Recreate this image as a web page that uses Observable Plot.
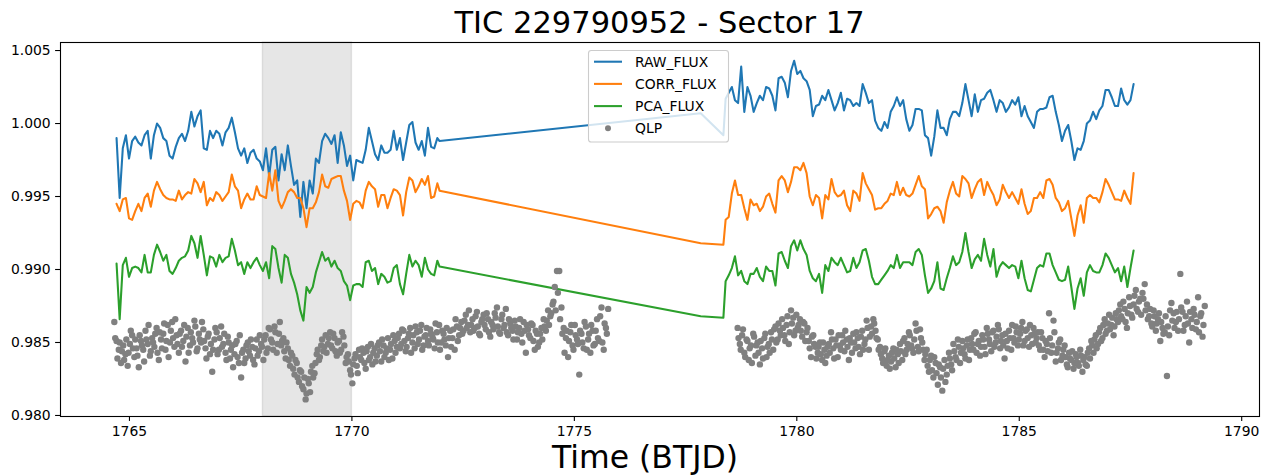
<!DOCTYPE html>
<html>
<head>
<meta charset="utf-8">
<script src="https://cdn.jsdelivr.net/npm/d3@7"></script>
<script src="https://cdn.jsdelivr.net/npm/@observablehq/plot@0.6"></script>
<style>
  body { margin: 0; background: #fff; font-family: "DejaVu Sans", sans-serif; color: #000; }
  #wrap { position: relative; width: 1282px; height: 476px; overflow: hidden; background: #fff; }
  #title { position: absolute; left: 60px; width: 1199px; top: 5px; height: 36px; line-height: 36px;
           text-align: center; font-size: 30.5px; white-space: nowrap; }
  #chart { position: absolute; left: 0; top: 40px; }
  #xlabel { position: absolute; left: 45px; width: 1200px; top: 446px; height: 30px; line-height: 23px;
            text-align: center; font-size: 31.5px; white-space: nowrap; }
</style>
</head>
<body>
<div id="wrap">
  <div id="title">TIC 229790952 - Sector 17</div>
  <div id="chart"></div>
  <div id="xlabel">Time (BTJD)</div>
</div>
<script>
// ---- light curve cadences (BTJD): orbit 1, two points across the gap, orbit 2 ----
const lcTime = [
  1764.71,1764.78,1764.85,1764.92,1764.99,1765.06,1765.13,1765.20,1765.27,1765.34,
  1765.41,1765.48,1765.55,1765.62,1765.69,1765.76,1765.83,1765.90,1765.97,1766.04,
  1766.11,1766.18,1766.25,1766.32,1766.39,1766.46,1766.53,1766.60,1766.67,1766.74,
  1766.81,1766.88,1766.95,1767.02,1767.09,1767.16,1767.23,1767.30,1767.37,1767.44,
  1767.51,1767.58,1767.65,1767.72,1767.79,1767.86,1767.93,1768.00,1768.07,1768.14,
  1768.21,1768.28,1768.35,1768.42,1768.49,1768.56,1768.63,1768.70,1768.77,1768.84,
  1768.91,1768.98,1769.05,1769.12,1769.19,1769.26,1769.33,1769.40,1769.47,1769.54,
  1769.61,1769.68,1769.75,1769.82,1769.89,1769.96,1770.03,1770.10,1770.17,1770.24,
  1770.31,1770.38,1770.45,1770.52,1770.59,1770.66,1770.73,1770.80,1770.87,1770.94,
  1771.01,1771.08,1771.15,1771.22,1771.29,1771.36,1771.43,1771.50,1771.57,1771.64,
  1771.71,1771.78,1771.85,1771.92,1771.97,
  1777.84,1778.35,
  1778.40,1778.47,1778.54,1778.61,1778.68,1778.75,1778.82,1778.89,1778.96,1779.03,
  1779.10,1779.17,1779.24,1779.31,1779.38,1779.45,1779.52,1779.59,1779.66,1779.73,
  1779.80,1779.87,1779.94,1780.01,1780.08,1780.15,1780.22,1780.29,1780.36,1780.43,
  1780.50,1780.57,1780.64,1780.71,1780.78,1780.85,1780.92,1780.99,1781.06,1781.13,
  1781.20,1781.27,1781.34,1781.41,1781.48,1781.55,1781.62,1781.69,1781.76,1781.83,
  1781.90,1781.97,1782.04,1782.11,1782.18,1782.25,1782.32,1782.39,1782.46,1782.53,
  1782.60,1782.67,1782.74,1782.81,1782.88,1782.95,1783.02,1783.09,1783.16,1783.23,
  1783.30,1783.37,1783.44,1783.51,1783.58,1783.65,1783.72,1783.79,1783.86,1783.93,
  1784.00,1784.07,1784.14,1784.21,1784.28,1784.35,1784.42,1784.49,1784.56,1784.63,
  1784.70,1784.77,1784.84,1784.91,1784.98,1785.05,1785.12,1785.19,1785.26,1785.33,
  1785.40,1785.47,1785.54,1785.61,1785.68,1785.75,1785.82,1785.89,1785.96,1786.03,
  1786.10,1786.17,1786.24,1786.31,1786.38,1786.45,1786.52,1786.59,1786.66,1786.73,
  1786.80,1786.87,1786.94,1787.01,1787.08,1787.15,1787.22,1787.29,1787.36,1787.43,
  1787.50,1787.57
];

// ---- normalised fluxes on the cadences above ----
const rawFlux = [
  0.9990,0.9949,0.9983,0.9992,0.9976,0.9988,0.9991,0.9987,0.9985,0.9992,
  0.9995,0.9976,0.9992,1.0000,0.9997,0.9990,0.9988,0.9978,0.9976,0.9984,
  0.9990,0.9993,0.9988,0.9995,1.0008,0.9998,1.0005,1.0009,0.9983,0.9982,
  0.9995,0.9990,0.9995,0.9993,0.9985,0.9994,0.9997,1.0004,0.9994,0.9983,
  0.9978,0.9983,0.9973,0.9980,0.9982,0.9976,0.9974,0.9968,0.9983,0.9964,
  0.9982,0.9984,0.9961,0.9979,0.9968,0.9985,0.9971,0.9958,0.9961,0.9936,
  0.9960,0.9942,0.9961,0.9952,0.9976,0.9973,0.9988,0.9993,0.9990,0.9986,
  0.9992,0.9973,0.9994,0.9985,0.9971,0.9978,0.9961,0.9975,0.9974,0.9973,
  0.9982,0.9997,0.9988,0.9979,0.9975,0.9985,0.9980,0.9980,0.9982,0.9995,
  0.9982,0.9990,0.9975,0.9987,0.9999,1.0001,0.9987,0.9982,0.9988,0.9978,
  0.9997,0.9984,0.9983,0.9990,0.9988,
  1.0007,0.9992,
  1.0017,1.0021,1.0025,1.0016,1.0014,1.0039,1.0008,1.0025,1.0019,1.0008,
  1.0014,1.0019,1.0016,1.0025,1.0024,1.0019,1.0009,1.0031,1.0032,1.0028,
  1.0018,1.0036,1.0043,1.0034,1.0036,1.0031,1.0029,1.0023,1.0005,1.0012,
  1.0013,1.0019,1.0016,1.0023,1.0016,1.0009,1.0014,1.0021,1.0009,1.0017,
  1.0016,1.0012,1.0014,1.0012,1.0027,1.0021,1.0014,1.0016,1.0002,0.9997,
  0.9995,1.0001,0.9997,1.0008,1.0012,1.0018,1.0012,1.0016,1.0003,0.9995,
  0.9999,1.0010,1.0010,1.0009,0.9992,0.9990,0.9978,0.9991,1.0009,0.9997,
  0.9997,0.9992,1.0003,1.0008,1.0008,1.0005,1.0014,1.0027,1.0016,1.0005,
  1.0020,1.0008,1.0016,1.0017,1.0021,1.0023,1.0016,1.0008,1.0016,1.0014,
  1.0008,1.0011,1.0016,1.0013,1.0018,1.0005,1.0012,1.0005,1.0001,0.9997,
  1.0008,1.0010,1.0010,1.0011,1.0018,1.0019,1.0008,0.9999,0.9988,0.9995,
  0.9999,0.9988,0.9975,0.9983,0.9982,0.9988,1.0000,1.0002,1.0008,1.0003,
  1.0009,1.0012,1.0023,1.0023,1.0018,1.0012,1.0012,1.0024,1.0016,1.0013,
  1.0016,1.0027
];

const corrFlux = [
  0.9945,0.9940,0.9948,0.9949,0.9935,0.9934,0.9940,0.9945,0.9940,0.9949,
  0.9952,0.9943,0.9954,0.9960,0.9955,0.9951,0.9949,0.9948,0.9948,0.9947,
  0.9954,0.9948,0.9951,0.9953,0.9952,0.9962,0.9959,0.9953,0.9960,0.9944,
  0.9949,0.9947,0.9953,0.9951,0.9947,0.9950,0.9953,0.9965,0.9957,0.9954,
  0.9942,0.9948,0.9952,0.9948,0.9948,0.9957,0.9951,0.9950,0.9949,0.9966,
  0.9954,0.9968,0.9947,0.9942,0.9947,0.9953,0.9955,0.9953,0.9949,0.9949,
  0.9942,0.9929,0.9942,0.9942,0.9946,0.9953,0.9965,0.9957,0.9956,0.9962,
  0.9963,0.9964,0.9964,0.9954,0.9947,0.9934,0.9945,0.9947,0.9946,0.9942,
  0.9954,0.9960,0.9957,0.9955,0.9943,0.9951,0.9951,0.9942,0.9949,0.9955,
  0.9954,0.9951,0.9937,0.9953,0.9963,0.9961,0.9953,0.9957,0.9962,0.9958,
  0.9964,0.9949,0.9950,0.9959,0.9954,
  0.9918,0.9917,
  0.9934,0.9936,0.9952,0.9961,0.9951,0.9951,0.9942,0.9934,0.9948,0.9944,
  0.9945,0.9940,0.9943,0.9950,0.9952,0.9945,0.9939,0.9961,0.9964,0.9961,
  0.9953,0.9960,0.9970,0.9970,0.9968,0.9973,0.9966,0.9950,0.9944,0.9951,
  0.9949,0.9935,0.9951,0.9948,0.9962,0.9953,0.9950,0.9951,0.9954,0.9944,
  0.9940,0.9954,0.9952,0.9947,0.9966,0.9959,0.9955,0.9951,0.9941,0.9942,
  0.9942,0.9945,0.9947,0.9952,0.9951,0.9960,0.9951,0.9956,0.9951,0.9950,
  0.9952,0.9958,0.9964,0.9957,0.9955,0.9935,0.9938,0.9942,0.9943,0.9940,
  0.9932,0.9946,0.9954,0.9960,0.9952,0.9950,0.9964,0.9962,0.9959,0.9949,
  0.9955,0.9960,0.9962,0.9951,0.9960,0.9955,0.9951,0.9944,0.9948,0.9958,
  0.9953,0.9949,0.9953,0.9949,0.9945,0.9955,0.9945,0.9938,0.9940,0.9949,
  0.9949,0.9953,0.9949,0.9961,0.9962,0.9958,0.9949,0.9946,0.9940,0.9942,
  0.9947,0.9935,0.9923,0.9937,0.9944,0.9932,0.9949,0.9951,0.9949,0.9949,
  0.9946,0.9953,0.9962,0.9958,0.9953,0.9948,0.9948,0.9947,0.9954,0.9949,
  0.9945,0.9966
];

const pcaFlux = [
  0.9904,0.9866,0.9903,0.9908,0.9895,0.9901,0.9902,0.9901,0.9898,0.9910,
  0.9898,0.9898,0.9910,0.9917,0.9912,0.9906,0.9910,0.9899,0.9897,0.9901,
  0.9906,0.9908,0.9909,0.9913,0.9923,0.9918,0.9908,0.9923,0.9910,0.9896,
  0.9909,0.9908,0.9902,0.9910,0.9905,0.9908,0.9909,0.9921,0.9913,0.9903,
  0.9905,0.9897,0.9905,0.9901,0.9905,0.9908,0.9903,0.9899,0.9905,0.9894,
  0.9916,0.9914,0.9901,0.9891,0.9910,0.9908,0.9897,0.9891,0.9883,0.9872,
  0.9865,0.9888,0.9884,0.9888,0.9898,0.9905,0.9912,0.9906,0.9908,0.9902,
  0.9906,0.9901,0.9899,0.9892,0.9889,0.9879,0.9889,0.9890,0.9890,0.9888,
  0.9905,0.9906,0.9899,0.9901,0.9890,0.9897,0.9895,0.9891,0.9892,0.9901,
  0.9903,0.9890,0.9883,0.9897,0.9910,0.9902,0.9906,0.9903,0.9895,0.9908,
  0.9900,0.9897,0.9896,0.9906,0.9902,
  0.9868,0.9867,
  0.9892,0.9896,0.9901,0.9909,0.9896,0.9899,0.9892,0.9890,0.9897,0.9897,
  0.9901,0.9895,0.9892,0.9902,0.9899,0.9899,0.9889,0.9911,0.9912,0.9906,
  0.9901,0.9916,0.9920,0.9913,0.9920,0.9914,0.9910,0.9899,0.9894,0.9892,
  0.9897,0.9884,0.9903,0.9899,0.9908,0.9905,0.9903,0.9908,0.9903,0.9898,
  0.9899,0.9908,0.9901,0.9905,0.9913,0.9914,0.9906,0.9895,0.9890,0.9890,
  0.9893,0.9896,0.9899,0.9903,0.9901,0.9910,0.9901,0.9905,0.9905,0.9905,
  0.9903,0.9912,0.9914,0.9910,0.9896,0.9884,0.9887,0.9892,0.9905,0.9887,
  0.9886,0.9894,0.9901,0.9909,0.9903,0.9905,0.9912,0.9925,0.9912,0.9901,
  0.9907,0.9910,0.9906,0.9921,0.9910,0.9902,0.9914,0.9895,0.9902,0.9905,
  0.9903,0.9901,0.9903,0.9902,0.9894,0.9906,0.9894,0.9886,0.9885,0.9893,
  0.9901,0.9903,0.9902,0.9911,0.9911,0.9903,0.9898,0.9893,0.9892,0.9893,
  0.9902,0.9888,0.9873,0.9887,0.9894,0.9882,0.9898,0.9903,0.9899,0.9898,
  0.9898,0.9903,0.9911,0.9908,0.9903,0.9898,0.9901,0.9892,0.9902,0.9888,
  0.9901,0.9913
];

// ---- QLP photometry ----
const qlpTime = [
  1764.66,1764.71,1764.76,1764.81,1764.86,1764.91,1764.96,1765.01,1765.06,1765.11,
  1765.16,1765.21,1765.26,1765.31,1765.36,1765.41,1765.46,1765.51,1765.56,1765.61,
  1765.66,1765.71,1765.76,1765.81,1765.86,1765.91,1765.96,1766.01,1766.06,1766.11,
  1766.16,1766.21,1766.26,1766.31,1766.36,1766.41,1766.46,1766.51,1766.56,1766.61,
  1766.66,1766.71,1766.76,1766.81,1766.86,1766.91,1766.96,1767.01,1767.06,1767.11,
  1767.16,1767.21,1767.26,1767.31,1767.36,1767.41,1767.46,1767.51,1767.56,1767.61,
  1767.66,1767.71,1767.76,1767.81,1767.86,1767.91,1767.96,1768.01,1768.06,1768.11,
  1768.16,1768.21,1768.26,1768.31,1768.36,1768.41,1768.46,1768.51,1768.56,1768.61,
  1768.66,1768.71,1768.76,1768.81,1768.86,1768.91,1768.96,1769.01,1769.06,1769.11,
  1769.16,1769.21,1769.26,1769.31,1769.36,1769.41,1769.46,1769.51,1769.56,1769.61,
  1769.66,1769.71,1769.76,1769.81,1769.86,1769.91,1769.96,1770.01,1770.06,1770.11,
  1770.16,1770.21,1770.26,1770.31,1770.36,1770.41,1770.46,1770.51,1770.56,1770.61,
  1770.66,1770.71,1770.76,1770.81,1770.86,1770.91,1770.96,1771.01,1771.06,1771.11,
  1771.16,1771.21,1771.26,1771.31,1771.36,1771.41,1771.46,1771.51,1771.56,1771.61,
  1771.66,1771.71,1771.76,1771.81,1771.86,1771.91,1771.96,1772.01,1772.06,1772.11,
  1772.16,1772.21,1772.26,1772.31,1772.36,1772.41,1772.46,1772.51,1772.56,1772.61,
  1772.66,1772.71,1772.76,1772.81,1772.86,1772.91,1772.96,1773.01,1773.06,1773.11,
  1773.16,1773.21,1773.26,1773.31,1773.36,1773.41,1773.46,1773.51,1773.56,1773.61,
  1773.66,1773.71,1773.76,1773.81,1773.86,1773.91,1773.96,1774.01,1774.06,1774.11,
  1774.16,1774.21,1774.26,1774.31,1774.36,1774.41,1774.46,1774.51,1774.56,1774.61,
  1774.66,1774.71,1774.76,1774.81,1774.86,1774.91,1774.96,1775.01,1775.06,1775.11,
  1775.16,1775.21,1775.26,1775.31,1775.36,1775.41,1775.46,1775.51,1775.56,1775.61,
  1775.66,1775.71,1775.76,
  1778.67,1778.72,1778.77,1778.82,1778.87,1778.92,1778.97,1779.02,1779.07,1779.12,
  1779.17,1779.22,1779.27,1779.32,1779.37,1779.42,1779.47,1779.52,1779.57,1779.62,
  1779.67,1779.72,1779.77,1779.82,1779.87,1779.92,1779.97,1780.02,1780.07,1780.12,
  1780.17,1780.22,1780.27,1780.32,1780.37,1780.42,1780.47,1780.52,1780.57,1780.62,
  1780.67,1780.72,1780.77,1780.82,1780.87,1780.92,1780.97,1781.02,1781.07,1781.12,
  1781.17,1781.22,1781.27,1781.32,1781.37,1781.42,1781.47,1781.52,1781.57,1781.62,
  1781.67,1781.72,1781.77,1781.82,1781.87,1781.92,1781.97,1782.02,1782.07,1782.12,
  1782.17,1782.22,1782.27,1782.32,1782.37,1782.42,1782.47,1782.52,1782.57,1782.62,
  1782.67,1782.72,1782.77,1782.82,1782.87,1782.92,1782.97,1783.02,1783.07,1783.12,
  1783.17,1783.22,1783.27,1783.32,1783.37,1783.42,1783.47,1783.52,1783.57,1783.62,
  1783.67,1783.72,1783.77,1783.82,1783.87,1783.92,1783.97,1784.02,1784.07,1784.12,
  1784.17,1784.22,1784.27,1784.32,1784.37,1784.42,1784.47,1784.52,1784.57,1784.62,
  1784.67,1784.72,1784.77,1784.82,1784.87,1784.92,1784.97,1785.02,1785.07,1785.12,
  1785.17,1785.22,1785.27,1785.32,1785.37,1785.42,1785.47,1785.52,1785.57,1785.62,
  1785.67,1785.72,1785.77,1785.82,1785.87,1785.92,1785.97,1786.02,1786.07,1786.12,
  1786.17,1786.22,1786.27,1786.32,1786.37,1786.42,1786.47,1786.52,1786.57,1786.62,
  1786.67,1786.72,1786.77,1786.82,1786.87,1786.92,1786.97,1787.02,1787.07,1787.12,
  1787.17,1787.22,1787.27,1787.32,1787.37,1787.42,1787.47,1787.52,1787.57,1787.62,
  1787.67,1787.72,1787.77,1787.82,1787.87,1787.92,1787.97,1788.02,1788.07,1788.12,
  1788.17,1788.22,1788.27,1788.32,1788.37,1788.42,1788.47,1788.52,1788.57,1788.62,
  1788.67,1788.72,1788.77,1788.82,1788.87,1788.92,1788.97,1789.02,1789.07,1789.12,
  1789.17,
  1764.68,1764.73,1764.78,1764.83,1764.88,1764.93,1764.98,1765.03,1765.08,1765.13,
  1765.18,1765.23,1765.28,1765.33,1765.38,1765.43,1765.48,1765.53,1765.58,1765.63,
  1765.68,1765.73,1765.78,1765.83,1765.88,1765.93,1765.98,1766.03,1766.08,1766.13,
  1766.18,1766.23,1766.28,1766.33,1766.38,1766.43,1766.48,1766.53,1766.58,1766.63,
  1766.68,1766.73,1766.78,1766.83,1766.88,1766.93,1766.98,1767.03,1767.08,1767.13,
  1767.18,1767.23,1767.28,1767.33,1767.38,1767.43,1767.48,1767.53,1767.58,1767.63,
  1767.68,1767.73,1767.78,1767.83,1767.88,1767.93,1767.98,1768.03,1768.08,1768.13,
  1768.18,1768.23,1768.28,1768.33,1768.38,1768.43,1768.48,1768.53,1768.58,1768.63,
  1768.68,1768.73,1768.78,1768.83,1768.88,1768.93,1768.98,1769.03,1769.08,1769.13,
  1769.18,1769.23,1769.28,1769.33,1769.38,1769.43,1769.48,1769.53,1769.58,1769.63,
  1769.68,1769.73,1769.78,1769.83,1769.88,1769.93,1769.98,1770.03,1770.08,1770.13,
  1770.18,1770.23,1770.28,1770.33,1770.38,1770.43,1770.48,1770.53,1770.58,1770.63,
  1770.68,1770.73,1770.78,1770.83,1770.88,1770.93,1770.98,1771.03,1771.08,1771.13,
  1771.18,1771.23,1771.28,1771.33,1771.38,1771.43,1771.48,1771.53,1771.58,1771.63,
  1771.68,1771.73,1771.78,1771.83,1771.88,1771.93,1771.98,1772.03,1772.08,1772.13,
  1772.18,1772.23,1772.28,1772.33,1772.38,1772.43,1772.48,1772.53,1772.58,1772.63,
  1772.68,1772.73,1772.78,1772.83,1772.88,1772.93,1772.98,1773.03,1773.08,1773.13,
  1773.18,1773.23,1773.28,1773.33,1773.38,1773.43,1773.48,1773.53,1773.58,1773.63,
  1773.68,1773.73,1773.78,1773.83,1773.88,1773.93,1773.98,1774.03,1774.08,1774.13,
  1774.18,1774.23,1774.28,1774.33,1774.38,1774.43,1774.48,1774.53,1774.58,1774.63,
  1774.68,1774.73,1774.78,1774.83,1774.88,1774.93,1774.98,1775.03,1775.08,1775.13,
  1775.18,1775.23,1775.28,1775.33,1775.38,1775.43,1775.48,1775.53,1775.58,1775.63,
  1775.68,1775.73,
  1778.69,1778.74,1778.79,1778.84,1778.89,1778.94,1778.99,1779.04,1779.09,1779.14,
  1779.19,1779.24,1779.29,1779.34,1779.39,1779.44,1779.49,1779.54,1779.59,1779.64,
  1779.69,1779.74,1779.79,1779.84,1779.89,1779.94,1779.99,1780.04,1780.09,1780.14,
  1780.19,1780.24,1780.29,1780.34,1780.39,1780.44,1780.49,1780.54,1780.59,1780.64,
  1780.69,1780.74,1780.79,1780.84,1780.89,1780.94,1780.99,1781.04,1781.09,1781.14,
  1781.19,1781.24,1781.29,1781.34,1781.39,1781.44,1781.49,1781.54,1781.59,1781.64,
  1781.69,1781.74,1781.79,1781.84,1781.89,1781.94,1781.99,1782.04,1782.09,1782.14,
  1782.19,1782.24,1782.29,1782.34,1782.39,1782.44,1782.49,1782.54,1782.59,1782.64,
  1782.69,1782.74,1782.79,1782.84,1782.89,1782.94,1782.99,1783.04,1783.09,1783.14,
  1783.19,1783.24,1783.29,1783.34,1783.39,1783.44,1783.49,1783.54,1783.59,1783.64,
  1783.69,1783.74,1783.79,1783.84,1783.89,1783.94,1783.99,1784.04,1784.09,1784.14,
  1784.19,1784.24,1784.29,1784.34,1784.39,1784.44,1784.49,1784.54,1784.59,1784.64,
  1784.69,1784.74,1784.79,1784.84,1784.89,1784.94,1784.99,1785.04,1785.09,1785.14,
  1785.19,1785.24,1785.29,1785.34,1785.39,1785.44,1785.49,1785.54,1785.59,1785.64,
  1785.69,1785.74,1785.79,1785.84,1785.89,1785.94,1785.99,1786.04,1786.09,1786.14,
  1786.19,1786.24,1786.29,1786.34,1786.39,1786.44,1786.49,1786.54,1786.59,1786.64,
  1786.69,1786.74,1786.79,1786.84,1786.89,1786.94,1786.99,1787.04,1787.09,1787.14,
  1787.19,1787.24,1787.29,1787.34,1787.39,1787.44,1787.49,1787.54,1787.59,1787.64,
  1787.69,1787.74,1787.79,1787.84,1787.89,1787.94,1787.99,1788.04,1788.09,1788.14,
  1788.19,1788.24,1788.29,1788.34,1788.39,1788.44,1788.49,1788.54,1788.59,1788.64,
  1788.69,1788.74,1788.79,1788.84,1788.89,1788.94,1788.99,1789.04,1789.09,1789.14
];

const qlpFlux = [
  0.9864,0.9851,0.9845,0.9836,0.9848,0.9842,0.9834,0.9849,0.9855,0.9840,
  0.9846,0.9833,0.9851,0.9845,0.9858,0.9849,0.9841,0.9853,0.9847,0.9860,
  0.9838,0.9852,0.9856,0.9845,0.9862,0.9850,0.9864,0.9847,0.9855,0.9843,
  0.9858,0.9851,0.9837,0.9860,0.9848,0.9853,0.9865,0.9844,0.9856,0.9850,
  0.9859,0.9846,0.9854,0.9842,0.9830,0.9852,0.9857,0.9845,0.9861,0.9849,
  0.9843,0.9854,0.9839,0.9848,0.9842,0.9851,0.9836,0.9826,0.9845,0.9839,
  0.9850,0.9841,0.9847,0.9835,0.9852,0.9844,0.9849,0.9838,0.9855,0.9846,
  0.9859,0.9850,0.9861,0.9843,0.9856,0.9848,0.9853,0.9839,0.9846,0.9834,
  0.9841,0.9828,0.9836,0.9823,0.9830,0.9818,0.9811,0.9825,0.9816,0.9834,
  0.9829,0.9842,0.9838,0.9848,0.9844,0.9855,0.9849,0.9857,0.9846,0.9853,
  0.9841,0.9851,0.9845,0.9854,0.9836,0.9842,0.9831,0.9822,0.9839,0.9834,
  0.9845,0.9838,0.9843,0.9832,0.9847,0.9840,0.9835,0.9846,0.9841,0.9850,
  0.9837,0.9848,0.9843,0.9853,0.9845,0.9839,0.9851,0.9847,0.9856,0.9849,
  0.9858,0.9844,0.9853,0.9860,0.9850,0.9846,0.9857,0.9852,0.9862,0.9848,
  0.9855,0.9851,0.9859,0.9854,0.9846,0.9857,0.9862,0.9850,0.9856,0.9848,
  0.9840,0.9858,0.9853,0.9845,0.9861,0.9855,0.9864,0.9858,0.9869,0.9862,
  0.9857,0.9866,0.9860,0.9871,0.9856,0.9864,0.9869,0.9859,0.9866,0.9854,
  0.9862,0.9870,0.9874,0.9857,0.9866,0.9860,0.9873,0.9855,0.9863,0.9858,
  0.9865,0.9852,0.9860,0.9856,0.9864,0.9843,0.9859,0.9853,0.9862,0.9845,
  0.9856,0.9850,0.9860,0.9866,0.9858,0.9872,0.9868,0.9876,0.9888,0.9899,
  0.9899,0.9874,0.9860,0.9853,0.9840,0.9857,0.9848,0.9862,0.9852,0.9828,
  0.9856,0.9846,0.9861,0.9852,0.9843,0.9858,0.9849,0.9866,0.9851,0.9874,
  0.9845,0.9860,0.9873,
  0.9860,0.9849,0.9855,0.9843,0.9852,0.9838,0.9848,0.9856,0.9841,0.9850,
  0.9835,0.9846,0.9853,0.9840,0.9849,0.9857,0.9845,0.9861,0.9852,0.9858,
  0.9866,0.9855,0.9862,0.9849,0.9872,0.9867,0.9858,0.9860,0.9866,0.9854,
  0.9863,0.9857,0.9851,0.9840,0.9855,0.9847,0.9843,0.9850,0.9838,0.9845,
  0.9841,0.9849,0.9857,0.9846,0.9852,0.9840,0.9848,0.9855,0.9844,0.9852,
  0.9838,0.9850,0.9856,0.9846,0.9853,0.9842,0.9858,0.9849,0.9865,0.9845,
  0.9861,0.9866,0.9858,0.9852,0.9847,0.9839,0.9844,0.9834,0.9841,0.9837,
  0.9846,0.9833,0.9842,0.9849,0.9838,0.9853,0.9845,0.9857,0.9848,0.9843,
  0.9863,0.9847,0.9859,0.9850,0.9838,0.9845,0.9830,0.9841,0.9826,0.9836,
  0.9821,0.9833,0.9817,0.9838,0.9828,0.9843,0.9835,0.9849,0.9840,0.9852,
  0.9836,0.9851,0.9842,0.9848,0.9838,0.9853,0.9845,0.9857,0.9849,0.9841,
  0.9855,0.9847,0.9860,0.9852,0.9844,0.9858,0.9850,0.9862,0.9846,0.9855,
  0.9839,0.9851,0.9858,0.9845,0.9853,0.9861,0.9848,0.9856,0.9864,0.9851,
  0.9859,0.9847,0.9855,0.9860,0.9850,0.9857,0.9845,0.9853,0.9840,0.9849,
  0.9870,0.9843,0.9865,0.9837,0.9846,0.9852,0.9841,0.9848,0.9835,0.9843,
  0.9838,0.9832,0.9842,0.9836,0.9845,0.9830,0.9840,0.9834,0.9846,0.9851,
  0.9843,0.9855,0.9849,0.9860,0.9853,0.9866,0.9858,0.9869,0.9862,0.9855,
  0.9870,0.9864,0.9876,0.9866,0.9873,0.9860,0.9881,0.9869,0.9876,0.9886,
  0.9871,0.9880,0.9884,0.9890,0.9876,0.9868,0.9863,0.9872,0.9858,0.9866,
  0.9851,0.9860,0.9857,0.9827,0.9855,0.9877,0.9870,0.9864,0.9858,0.9897,
  0.9871,0.9862,0.9878,0.9850,0.9866,0.9873,0.9859,0.9881,0.9868,0.9854,
  0.9875,
  0.9853,0.9839,0.9850,0.9844,0.9838,0.9852,0.9843,0.9858,0.9846,0.9852,
  0.9841,0.9855,0.9848,0.9837,0.9852,0.9862,0.9844,0.9850,0.9856,0.9843,
  0.9857,0.9846,0.9863,0.9851,0.9840,0.9858,0.9853,0.9866,0.9849,0.9856,
  0.9847,0.9862,0.9854,0.9843,0.9857,0.9850,0.9861,0.9846,0.9852,0.9864,
  0.9851,0.9839,0.9856,0.9849,0.9845,0.9860,0.9842,0.9853,0.9847,0.9856,
  0.9838,0.9850,0.9845,0.9833,0.9849,0.9840,0.9855,0.9843,0.9836,0.9848,
  0.9844,0.9852,0.9838,0.9846,0.9841,0.9855,0.9847,0.9852,0.9843,0.9860,
  0.9852,0.9845,0.9857,0.9849,0.9864,0.9851,0.9844,0.9850,0.9838,0.9843,
  0.9832,0.9838,0.9826,0.9831,0.9820,0.9826,0.9815,0.9822,0.9830,0.9826,
  0.9836,0.9845,0.9840,0.9852,0.9847,0.9843,0.9853,0.9848,0.9856,0.9844,
  0.9850,0.9843,0.9857,0.9848,0.9840,0.9837,0.9828,0.9835,0.9842,0.9829,
  0.9840,0.9846,0.9836,0.9844,0.9838,0.9849,0.9843,0.9837,0.9848,0.9844,
  0.9852,0.9840,0.9846,0.9838,0.9849,0.9855,0.9843,0.9853,0.9846,0.9859,
  0.9851,0.9847,0.9856,0.9843,0.9855,0.9861,0.9849,0.9858,0.9845,0.9854,
  0.9860,0.9848,0.9856,0.9852,0.9863,0.9850,0.9845,0.9858,0.9852,0.9860,
  0.9853,0.9847,0.9859,0.9866,0.9851,0.9860,0.9856,0.9865,0.9860,0.9872,
  0.9862,0.9858,0.9868,0.9861,0.9855,0.9866,0.9862,0.9870,0.9857,0.9864,
  0.9859,0.9867,0.9861,0.9856,0.9869,0.9862,0.9857,0.9866,0.9860,0.9852,
  0.9861,0.9857,0.9866,0.9850,0.9858,0.9862,0.9855,0.9863,0.9851,0.9858,
  0.9847,0.9856,0.9852,0.9861,0.9865,0.9862,0.9870,0.9878,0.9872,0.9884,
  0.9866,0.9856,0.9843,0.9858,0.9851,0.9862,0.9845,0.9855,0.9849,0.9858,
  0.9850,0.9864,0.9845,0.9856,0.9862,0.9848,0.9858,0.9853,0.9868,0.9850,
  0.9863,0.9856,
  0.9853,0.9845,0.9859,0.9840,0.9851,0.9846,0.9836,0.9854,0.9848,0.9843,
  0.9851,0.9839,0.9856,0.9847,0.9843,0.9852,0.9859,0.9850,0.9863,0.9855,
  0.9860,0.9851,0.9868,0.9857,0.9863,0.9855,0.9869,0.9862,0.9858,0.9864,
  0.9851,0.9860,0.9846,0.9854,0.9849,0.9839,0.9847,0.9842,0.9850,0.9836,
  0.9847,0.9843,0.9852,0.9839,0.9848,0.9855,0.9845,0.9850,0.9858,0.9847,
  0.9853,0.9843,0.9850,0.9857,0.9847,0.9854,0.9845,0.9852,0.9860,0.9854,
  0.9856,0.9863,0.9853,0.9845,0.9842,0.9836,0.9846,0.9838,0.9832,0.9843,
  0.9839,0.9845,0.9836,0.9844,0.9851,0.9842,0.9849,0.9855,0.9846,0.9852,
  0.9858,0.9844,0.9853,0.9845,0.9842,0.9834,0.9838,0.9831,0.9840,0.9829,
  0.9835,0.9826,0.9832,0.9823,0.9834,0.9839,0.9831,0.9844,0.9838,0.9847,
  0.9843,0.9846,0.9839,0.9852,0.9845,0.9849,0.9856,0.9843,0.9851,0.9847,
  0.9852,0.9842,0.9856,0.9849,0.9857,0.9847,0.9854,0.9859,0.9851,0.9848,
  0.9856,0.9846,0.9853,0.9862,0.9850,0.9857,0.9852,0.9860,0.9848,0.9858,
  0.9853,0.9862,0.9849,0.9856,0.9853,0.9848,0.9857,0.9845,0.9851,0.9844,
  0.9853,0.9848,0.9857,0.9843,0.9850,0.9838,0.9845,0.9840,0.9833,0.9839,
  0.9844,0.9836,0.9840,0.9834,0.9841,0.9838,0.9835,0.9843,0.9839,0.9848,
  0.9852,0.9846,0.9857,0.9851,0.9862,0.9856,0.9863,0.9859,0.9867,0.9861,
  0.9866,0.9872,0.9868,0.9878,0.9864,0.9870,0.9875,0.9867,0.9882,0.9873,
  0.9878,0.9869,0.9880,0.9872,0.9866,0.9873,0.9861,0.9868,0.9863,0.9870,
  0.9864,0.9856,0.9868,0.9861,0.9872,0.9865,0.9860,0.9871,0.9866,0.9874,
  0.9858,0.9868,0.9863,0.9871,0.9860,0.9869,0.9864,0.9857,0.9870,0.9862
];

// ---- highlighted interval, series names, tick values ----
const shadeStart = [1768.0];
const shadeEnd = [1770.0];
const seriesNames = ["RAW_FLUX", "CORR_FLUX", "PCA_FLUX", "QLP"];
const xTickValues = [1765, 1770, 1775, 1780, 1785, 1790];
const yTickValues = [0.980, 0.985, 0.990, 0.995, 1.000, 1.005];

// ---- styling ----
const palette = ["#1f77b4", "#ff7f0e", "#2ca02c", "#808080"];
const font = "DejaVu Sans";

const lightCurve = lcTime.map((t, i) => ({t, raw: rawFlux[i], corr: corrFlux[i], pca: pcaFlux[i]}));
const qlp = qlpTime.map((t, i) => ({t, flux: qlpFlux[i]}));
const shaded = shadeStart.map((s, i) => ({start: s, end: shadeEnd[i]}));

const chart = Plot.plot({
  width: 1282,
  height: 404,
  marginLeft: 60,
  marginRight: 23,
  marginTop: 2,
  marginBottom: 28,
  style: {fontFamily: font, fontSize: "13.9px", color: "#000", background: "transparent", overflow: "visible"},
  x: {domain: [1763.45, 1790.4]},
  y: {domain: [0.97993, 1.00555]},
  marks: [
    Plot.rect(shaded, {x1: "start", x2: "end", fill: "#808080", fillOpacity: 0.2,
                       stroke: "#808080", strokeOpacity: 0.2, strokeWidth: 1.4}),
    Plot.line(lightCurve, {x: "t", y: "raw", stroke: palette[0], strokeWidth: 2.08}),
    Plot.line(lightCurve, {x: "t", y: "corr", stroke: palette[1], strokeWidth: 2.08}),
    Plot.line(lightCurve, {x: "t", y: "pca", stroke: palette[2], strokeWidth: 2.08}),
    Plot.dot(qlp, {x: "t", y: "flux", r: 3.2, fill: palette[3], stroke: null}),
    Plot.axisX({ticks: xTickValues, tickFormat: d => String(d), tickSize: 4.9, tickPadding: 4.9,
                label: null, strokeWidth: 1.1}),
    Plot.axisY({ticks: yTickValues, tickFormat: d3.format(".3f"), tickSize: 4.9, tickPadding: 4.9,
                label: null, strokeWidth: 1.1}),
    Plot.frame({stroke: "#000", strokeWidth: 1.1})
  ]
});
document.getElementById("chart").appendChild(chart);

// ---- legend box in the upper middle of the axes ----
const legend = d3.select(chart).append("g")
  .attr("font-family", font)
  .attr("font-size", "13.9px")
  .attr("text-anchor", "start");
legend.append("rect")
  .attr("x", 588.5).attr("y", 10.5)
  .attr("width", 140).attr("height", 91.5)
  .attr("rx", 2.8)
  .attr("fill", "#fff").attr("fill-opacity", 0.8)
  .attr("stroke", "#cccccc").attr("stroke-width", 1.1);
seriesNames.forEach((name, i) => {
  const cy = 21.7 + i * 22.2;
  if (i < 3) {
    legend.append("line")
      .attr("x1", 594).attr("x2", 622).attr("y1", cy).attr("y2", cy)
      .attr("stroke", palette[i]).attr("stroke-width", 2.08);
  } else {
    legend.append("circle")
      .attr("cx", 608).attr("cy", cy).attr("r", 3)
      .attr("fill", palette[i]);
  }
  legend.append("text")
    .attr("x", 635).attr("y", cy).attr("dy", "0.36em")
    .attr("text-anchor", "start")
    .attr("fill", "#000")
    .text(name);
});
</script>
</body>
</html>
